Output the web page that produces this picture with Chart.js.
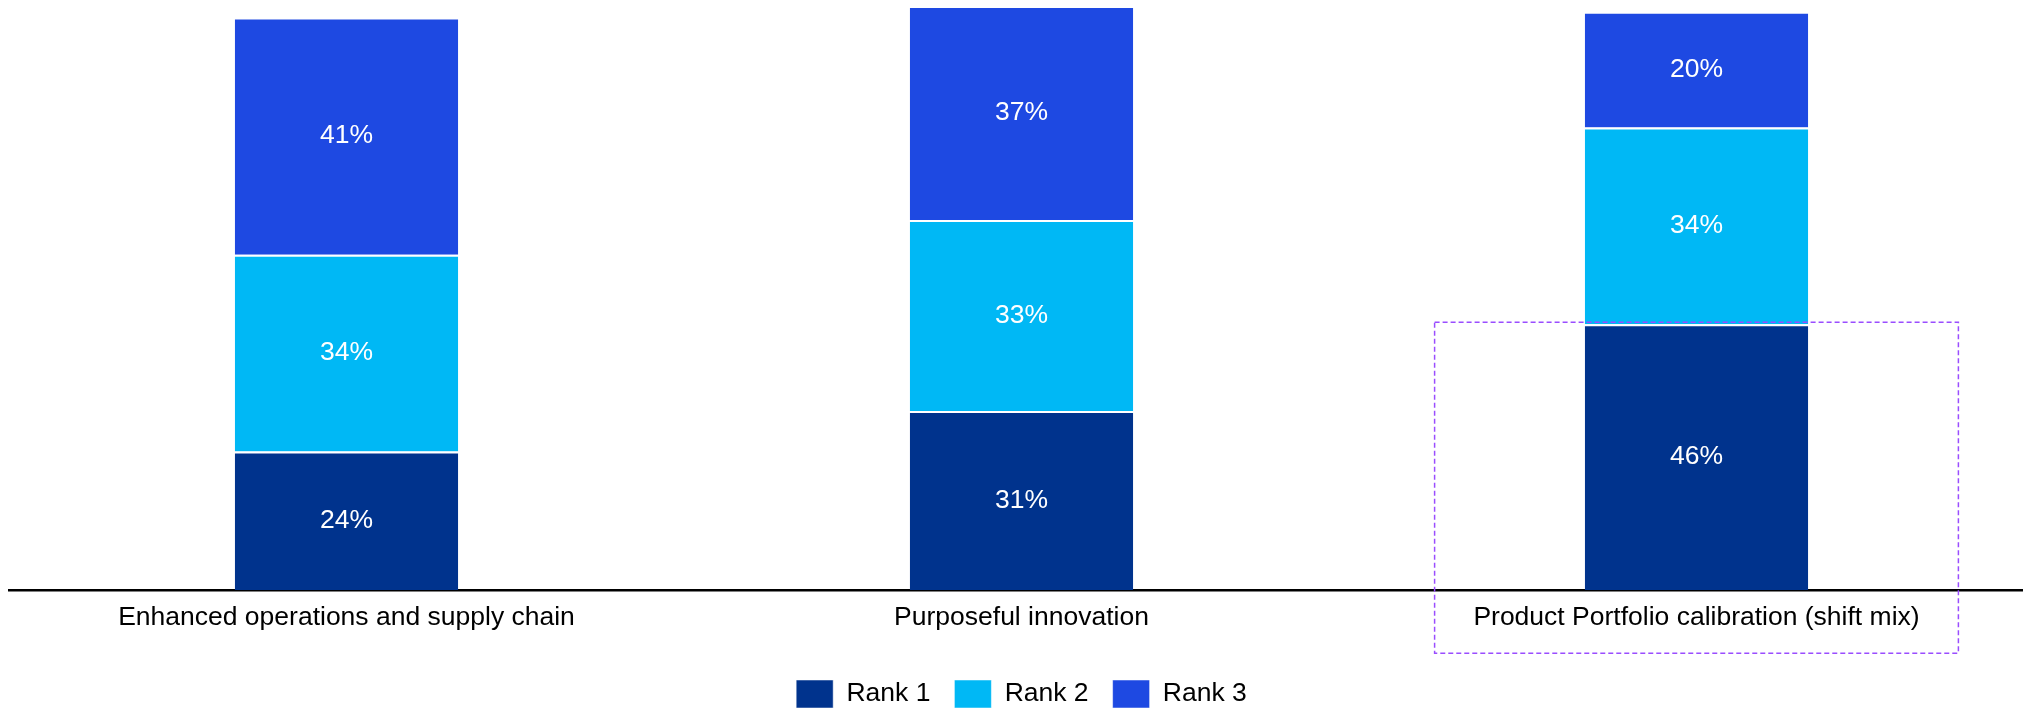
<!DOCTYPE html>
<html>
<head>
<meta charset="utf-8">
<script src="https://cdn.jsdelivr.net/npm/chart.js@4.4.0/dist/chart.umd.min.js"></script>
<style>
  body { margin: 0; background: #fff; overflow: hidden; }
  /* canvas runs a few px past the right edge; the axis line is cut off there */
  #wrap { width: 2023px; height: 708px; overflow: hidden; }
</style>
</head>
<body>
<div id="wrap"><canvas id="canvas" width="2034" height="708"></canvas></div>
<script>
var categories = ['Enhanced operations and supply chain', 'Purposeful innovation', 'Product Portfolio calibration (shift mix)'];
var rank1 = [24, 31, 46];
var rank2 = [34, 33, 34];
var rank3 = [41, 37, 20];
var seriesNames = ['Rank 1', 'Rank 2', 'Rank 3'];
var seriesColors = ['#00338d', '#00b8f5', '#1e49e2'];

var highlightIndex = 2;

Chart.defaults.font.family = '"Liberation Sans", Arial, sans-serif';
Chart.defaults.font.size = 26.5;
Chart.defaults.color = '#000';

// white % label in the middle of every segment
var segmentLabels = {
  id: 'segmentLabels',
  afterDatasetsDraw: function(chart) {
    var ctx = chart.ctx;
    ctx.save();
    ctx.fillStyle = '#fff';
    ctx.font = '26.5px "Liberation Sans", Arial, sans-serif';
    ctx.textAlign = 'center';
    ctx.textBaseline = 'middle';
    chart.data.datasets.forEach(function(ds, i) {
      chart.getDatasetMeta(i).data.forEach(function(bar, j) {
        var mid = (bar.y + bar.base) / 2;
        ctx.fillText(ds.data[j] + '%', bar.x, mid);
      });
    });
    ctx.restore();
  }
};

// dashed frame round the last category
var highlightBox = {
  id: 'highlightBox',
  afterDraw: function(chart) {
    var xs = chart.scales.x, ys = chart.scales.y;
    var step = xs.width / categories.length;
    var cx = xs.getPixelForValue(highlightIndex);
    var half = step * 0.388;
    var top = ys.getPixelForValue(rank1[highlightIndex]) - 2;
    var bottom = xs.top + 63;
    var ctx = chart.ctx;
    ctx.save();
    ctx.strokeStyle = '#9a4dff';
    ctx.lineWidth = 1.5;
    ctx.setLineDash([5, 3]);
    ctx.strokeRect(cx - half, top, half * 2, bottom - top);
    ctx.restore();
  }
};

var chart_config = {
  type: 'bar',
  data: {
    labels: categories,
    datasets: [rank1, rank2, rank3].map(function(d, i) {
      return {
        label: seriesNames[i],
        data: d,
        backgroundColor: seriesColors[i],
        borderColor: '#fff',
        borderWidth: { top: 2, left: 0, right: 0, bottom: 0 },
        borderSkipped: false,
        barPercentage: 1,
        categoryPercentage: 0.331
      };
    })
  },
  options: {
    responsive: false,
    animation: false,
    layout: { padding: { left: 9, right: 0, top: 6, bottom: -10 } },
    scales: {
      x: {
        stacked: true,
        grid: { display: false, drawTicks: false },
        border: { display: true, color: '#000', width: 2.5 },
        ticks: { padding: 12, color: '#000', maxRotation: 0 },
        afterFit: function(scale) { scale.height += 10; }
      },
      y: {
        stacked: true,
        display: false,
        min: 0,
        max: 101
      }
    },
    plugins: {
      legend: {
        position: 'bottom',
        labels: {
          boxWidth: 37,
          boxHeight: 28,
          padding: 24,
          color: '#000',
          font: { size: 26.5 }
        }
      },
      tooltip: { enabled: false }
    }
  },
  plugins: [segmentLabels, highlightBox]
};

window.myBars = new Chart(document.getElementById('canvas').getContext('2d'), chart_config);
</script>
</body>
</html>
